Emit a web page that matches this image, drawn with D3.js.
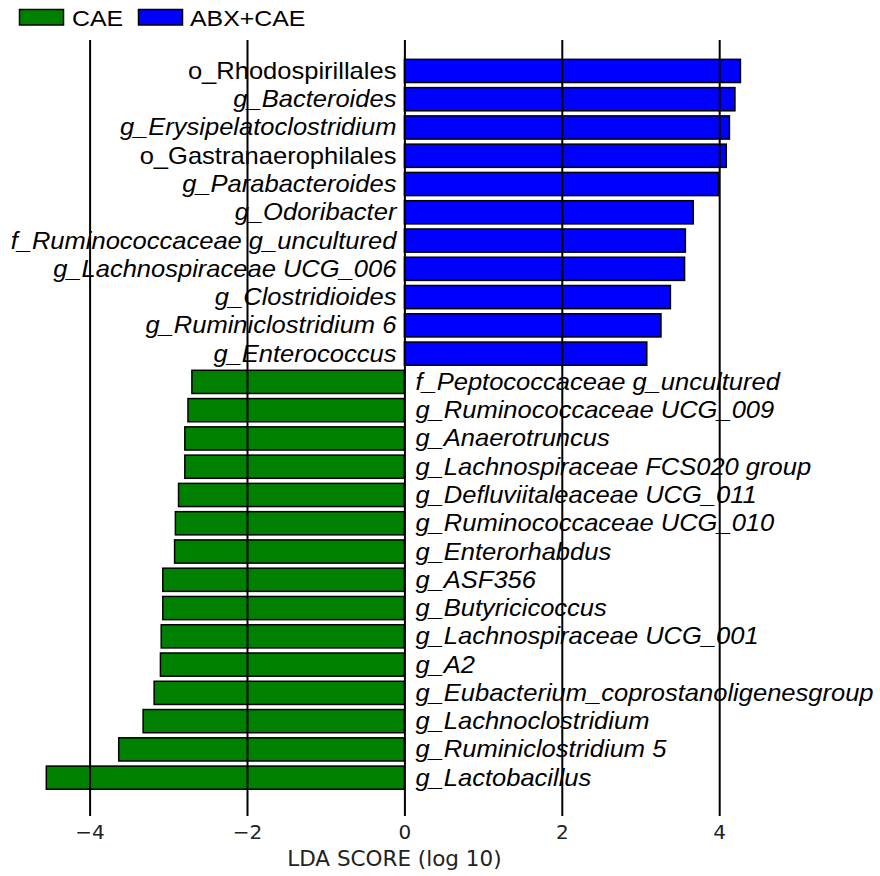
<!DOCTYPE html>
<html>
<head>
<meta charset="utf-8">
<script src="https://cdn.jsdelivr.net/npm/d3@7"></script>
<style>
  html, body { margin: 0; padding: 0; background: #fff; }
  svg { display: block; }
</style>
</head>
<body>
<svg id="chart" width="880" height="876"></svg>
<script>
// ---- data (top to bottom) ----
const taxa = [
  "o_Rhodospirillales", "g_Bacteroides", "g_Erysipelatoclostridium", "o_Gastranaerophilales",
  "g_Parabacteroides", "g_Odoribacter", "f_Ruminococcaceae g_uncultured", "g_Lachnospiraceae UCG_006",
  "g_Clostridioides", "g_Ruminiclostridium 6", "g_Enterococcus",
  "f_Peptococcaceae g_uncultured", "g_Ruminococcaceae UCG_009", "g_Anaerotruncus",
  "g_Lachnospiraceae FCS020 group", "g_Defluviitaleaceae UCG_011", "g_Ruminococcaceae UCG_010",
  "g_Enterorhabdus", "g_ASF356", "g_Butyricicoccus", "g_Lachnospiraceae UCG_001", "g_A2",
  "g_Eubacterium_coprostanoligenesgroup", "g_Lachnoclostridium", "g_Ruminiclostridium 5", "g_Lactobacillus"
];
const ldaScores = [
  4.27, 4.20, 4.13, 4.09, 3.99, 3.67, 3.57, 3.56, 3.38, 3.26, 3.08,
  -2.70, -2.75, -2.79, -2.79, -2.87, -2.91, -2.92, -3.07, -3.07, -3.09, -3.10, -3.18, -3.32, -3.63, -4.55
];
const groups = ["CAE", "ABX+CAE"];
const groupColors = ["#008000", "#0000ff"];
const xTicks = [-4, -2, 0, 2, 4];
const xLabel = "LDA SCORE (log 10)";

// ---- layout ----
const svg = d3.select("#chart");
const x = d3.scaleLinear().domain([-4, 4]).range([89.6, 719.2]);
const y = d3.scaleBand().domain(taxa).range([56.8, 791.8]).paddingInner(0.18).paddingOuter(0.09);
const color = d3.scaleOrdinal().domain(groups).range(groupColors);
const data = taxa.map((t, i) => ({ taxon: t, score: ldaScores[i], group: ldaScores[i] < 0 ? "CAE" : "ABX+CAE" }));

// bars
svg.append("g").selectAll("rect").data(data).join("rect")
  .attr("x", d => x(Math.min(0, d.score)))
  .attr("width", d => Math.abs(x(d.score) - x(0)))
  .attr("y", d => y(d.taxon))
  .attr("height", y.bandwidth())
  .attr("fill", d => color(d.group))
  .attr("stroke", "#000")
  .attr("stroke-width", 1.5);

// axis / gridlines
const axisY = 816;
const axis = svg.append("g").attr("transform", `translate(0,${axisY})`)
  .call(d3.axisBottom(x).tickValues(xTicks).tickSizeInner(-(axisY - 40)).tickSizeOuter(0).tickPadding(9));
axis.select(".domain").remove();
axis.selectAll(".tick line").attr("stroke", "#000").attr("stroke-width", 2);
axis.selectAll(".tick text").attr("font-family", "DejaVu Sans").attr("font-size", 20).attr("fill", "#222");

svg.append("text")
  .attr("x", x(0) - 10).attr("y", 866)
  .attr("text-anchor", "middle")
  .attr("font-family", "DejaVu Sans").attr("font-size", 21.5).attr("fill", "#222")
  .text(xLabel);

// taxon labels
const sx = 1.11;
svg.append("g").selectAll("text").data(data).join("text")
  .attr("transform", d => {
    const cx = d.score >= 0 ? x(0) - 8 : x(0) + 11;
    const cy = y(d.taxon) + y.bandwidth() / 2 + 8;
    return `translate(${cx},${cy}) scale(${sx},1)`;
  })
  .attr("text-anchor", d => d.score >= 0 ? "end" : "start")
  .attr("font-family", "Liberation Sans, Arial, sans-serif")
  .attr("font-size", 23)
  .attr("font-style", d => d.taxon.startsWith("o_") ? "normal" : "italic")
  .attr("fill", "#000")
  .text(d => d.taxon);

// legend
const legend = svg.append("g");
const legendItems = [{ g: groups[0], bx: 19.5, tx: 72 }, { g: groups[1], bx: 138.5, tx: 190 }];
legendItems.forEach(it => {
  legend.append("rect").attr("x", it.bx).attr("y", 9.5).attr("width", 44).attr("height", 15.5)
    .attr("fill", color(it.g)).attr("stroke", "#000").attr("stroke-width", 1.5);
  legend.append("text").attr("transform", `translate(${it.tx},25.5) scale(1.13,1)`)
    .attr("font-family", "Liberation Sans, Arial, sans-serif").attr("font-size", 22)
    .attr("fill", "#000").text(it.g);
});
</script>
</body>
</html>
